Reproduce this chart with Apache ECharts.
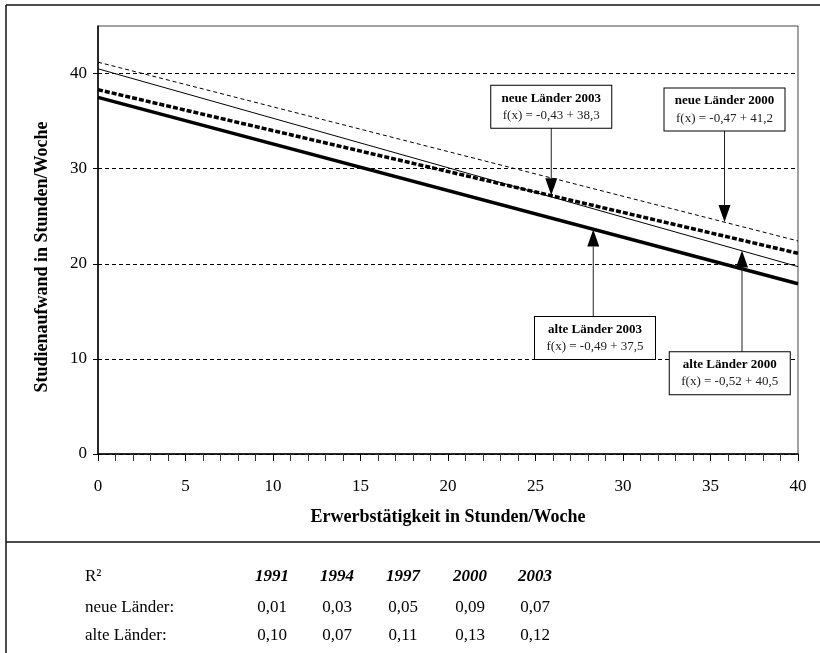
<!DOCTYPE html>
<html>
<head>
<meta charset="utf-8">
<script src="https://cdn.jsdelivr.net/npm/echarts@6/dist/echarts.min.js"></script>
<style>
  body { margin: 0; background: #fff; }
  #chart { width: 820px; height: 653px; }
</style>
</head>
<body>
<div id="chart"></div>
<script>
// Regressionsgeraden (Endpunkte bei x = 0 und x = 40)
var xEnds = [0, 40];
var neue2000 = [41.2, 22.4];
var alte2000 = [40.5, 19.7];
var neue2003 = [38.3, 21.1];
var alte2003 = [37.5, 17.9];

var yTicks = [0, 10, 20, 30, 40];

// Beschriftungskästen mit Pfeil
var annoTitles = ['neue Länder 2003', 'neue Länder 2000', 'alte Länder 2003', 'alte Länder 2000'];
var annoFormulas = ['f(x) = -0,43 + 38,3', 'f(x) = -0,47 + 41,2', 'f(x) = -0,49 + 37,5', 'f(x) = -0,52 + 40,5'];
var annoX = [25.9, 35.8, 28.3, 36.8];     // Pfeil x
var annoTip = [27.2, 24.4, 23.6, 21.4];   // Pfeilspitze y
var annoBoxX = [25.9, 35.8, 28.4, 36.1];  // Kastenmitte x
var annoBoxY = [34.3, 34.0, 14.4, 10.7];  // Kastenkante y

// R²-Tabelle
var tableYears = ['1991', '1994', '1997', '2000', '2003'];
var r2Neue = [0.01, 0.03, 0.05, 0.09, 0.07];
var r2Alte = [0.10, 0.07, 0.11, 0.13, 0.12];

var FONT = '"Liberation Serif", "Times New Roman", serif';

function pts(ys) {
  return xEnds.map(function (x, i) { return [x, ys[i]]; });
}

function fmt(v) {
  return v.toFixed(2).replace('.', ',');
}

var chart = echarts.init(document.getElementById('chart'));

var option = {
  animation: false,
  backgroundColor: '#fff',
  textStyle: { fontFamily: FONT, color: '#000' },
  grid: {
    left: 98, right: 22, top: 26, bottom: 199,
    show: true, borderColor: '#444', borderWidth: 1
  },
  xAxis: {
    type: 'value',
    min: 0, max: 40, interval: 5,
    name: 'Erwerbstätigkeit in Stunden/Woche',
    nameLocation: 'middle',
    nameGap: 54,
    nameTextStyle: { fontFamily: FONT, fontSize: 18, fontWeight: 'bold', color: '#000' },
    axisLine: { show: true, lineStyle: { color: '#000', width: 1.5 } },
    axisTick: { show: true, inside: false, length: 7, lineStyle: { color: '#000', width: 1 } },
    minorTick: { show: true, splitNumber: 5, length: 7, lineStyle: { color: '#333', width: 1 } },
    axisLabel: { fontFamily: FONT, fontSize: 17, color: '#000', margin: 24 },
    splitLine: { show: false }
  },
  yAxis: {
    type: 'value',
    min: 0, max: 45, interval: 10,
    name: 'Studienaufwand in Stunden/Woche',
    nameLocation: 'middle',
    nameGap: 47,
    nameTextStyle: { fontFamily: FONT, fontSize: 18, fontWeight: 'bold', color: '#000', padding: [0, 34, 0, 0] },
    axisLine: { show: true, lineStyle: { color: '#000', width: 1.5 } },
    axisTick: { show: true, inside: false, length: 5, customValues: yTicks, lineStyle: { color: '#000' } },
    axisLabel: { fontFamily: FONT, fontSize: 17, color: '#000', margin: 11, customValues: yTicks },
    splitLine: { show: true, lineStyle: { color: '#000', width: 1, type: [4, 3] } }
  },
  series: [
    {
      name: 'neue Länder 2000', type: 'line', data: pts(neue2000), showSymbol: false, silent: true,
      lineStyle: { color: '#000', width: 1, type: [4, 3] }
    },
    {
      name: 'alte Länder 2000', type: 'line', data: pts(alte2000), showSymbol: false, silent: true,
      lineStyle: { color: '#000', width: 1 }
    },
    {
      name: 'neue Länder 2003', type: 'line', data: pts(neue2003), showSymbol: false, silent: true,
      lineStyle: { color: '#000', width: 3.5, type: [5, 2] }
    },
    {
      name: 'alte Länder 2003', type: 'line', data: pts(alte2003), showSymbol: false, silent: true,
      lineStyle: { color: '#000', width: 3.5 }
    }
  ]
};

chart.setOption(option);

// Rahmen, Trennlinie, Tabelle und Pfeile
var graphics = [
  { type: 'line', shape: { x1: 6, y1: 5, x2: 6, y2: 653 }, style: { stroke: '#111', lineWidth: 1.5 } },
  { type: 'line', shape: { x1: 6, y1: 5, x2: 820, y2: 5 }, style: { stroke: '#111', lineWidth: 1.5 } },
  { type: 'line', shape: { x1: 6, y1: 542, x2: 820, y2: 542 }, style: { stroke: '#111', lineWidth: 1.5 } }
];

var colX = [272, 337, 403, 470, 535];
var rowY = [577, 608, 636];
var tableFont = '17px ' + FONT;

graphics.push({ type: 'text', x: 85, y: rowY[0], style: { text: 'R²', font: tableFont, fill: '#000', verticalAlign: 'middle' } });
graphics.push({ type: 'text', x: 85, y: rowY[1], style: { text: 'neue Länder:', font: tableFont, fill: '#000', verticalAlign: 'middle' } });
graphics.push({ type: 'text', x: 85, y: rowY[2], style: { text: 'alte Länder:', font: tableFont, fill: '#000', verticalAlign: 'middle' } });

tableYears.forEach(function (yr, i) {
  graphics.push({ type: 'text', x: colX[i], y: rowY[0], style: {
    text: yr, font: 'italic bold 17px ' + FONT, fill: '#000', align: 'center', verticalAlign: 'middle' } });
  graphics.push({ type: 'text', x: colX[i], y: rowY[1], style: {
    text: fmt(r2Neue[i]), font: tableFont, fill: '#000', align: 'center', verticalAlign: 'middle' } });
  graphics.push({ type: 'text', x: colX[i], y: rowY[2], style: {
    text: fmt(r2Alte[i]), font: tableFont, fill: '#000', align: 'center', verticalAlign: 'middle' } });
});

for (var i = 0; i < annoTitles.length; i++) {
  var tip = chart.convertToPixel({ gridIndex: 0 }, [annoX[i], annoTip[i]]);
  var box = chart.convertToPixel({ gridIndex: 0 }, [annoBoxX[i], annoBoxY[i]]);
  var dir = box[1] < tip[1] ? 1 : -1;
  var base = tip[1] - dir * 17;
  graphics.push({ type: 'line', z: 10, shape: { x1: tip[0], y1: box[1], x2: tip[0], y2: base },
    style: { stroke: '#222', lineWidth: 1 } });
  graphics.push({ type: 'polygon', z: 10, shape: { points: [[tip[0] - 6, base], [tip[0] + 6, base], [tip[0], tip[1]]] },
    style: { fill: '#000' } });
  graphics.push({ type: 'text', z: 11, x: box[0], y: box[1], style: {
    text: '{b|' + annoTitles[i] + '}\n{n|' + annoFormulas[i] + '}',
    rich: {
      b: { fontFamily: FONT, fontSize: 13, fontWeight: 'bold', lineHeight: 17, fill: '#000', align: 'center' },
      n: { fontFamily: FONT, fontSize: 13, lineHeight: 17, fill: '#222', align: 'center' }
    },
    align: 'center',
    verticalAlign: dir > 0 ? 'bottom' : 'top',
    width: 106,
    padding: [4, 7],
    backgroundColor: '#fff',
    borderColor: '#000',
    borderWidth: 1
  } });
}

chart.setOption({ graphic: graphics });
</script>
</body>
</html>
